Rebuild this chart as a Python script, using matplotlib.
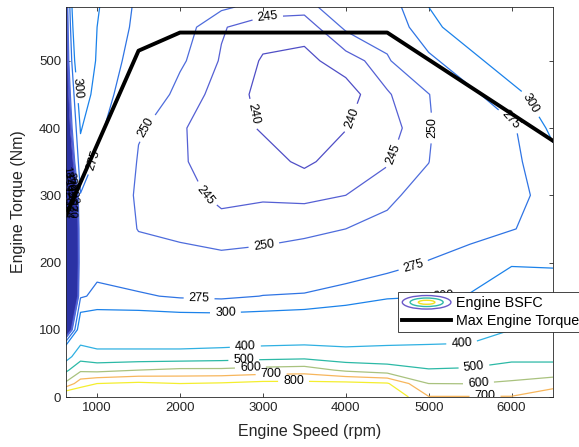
import matplotlib
matplotlib.use('Agg')
import matplotlib.pyplot as plt
import numpy as np
from matplotlib.patches import Ellipse
from matplotlib.legend_handler import HandlerBase

plt.rcParams['font.family'] = ['Liberation Sans', 'DejaVu Sans']

# grid of the map
speed = [625, 800, 1000, 1500, 2000, 2500, 3000, 3500, 4000, 4500, 5000, 5500, 6000, 6500]
torque = [0, 20, 40, 60, 80, 100, 150, 200, 250, 300, 350, 400, 450, 500, 550, 580]

# bsfc (g/kWh) for each speed column, one value per torque row
bsfc_625 = [950, 620, 480, 360, 290, 190, 105, 100, 100, 115, 190, 212, 220, 226, 228, 230]
bsfc_800 = [900, 760, 580, 460, 390, 330, 272, 266, 268, 274, 290, 302, 320, 350, 380, 400]
bsfc_1000 = [950, 800, 570, 440, 370, 330, 280, 268, 262, 264, 271, 280, 288, 295, 300, 302]
bsfc_1500 = [980, 820, 600, 440, 370, 330, 278, 256, 249.5, 248, 249, 251, 256, 262, 268, 270]
bsfc_2000 = [990, 800, 620, 440, 370, 330, 272, 253, 248, 246.5, 245.5, 245.5, 248, 251, 253, 254]
bsfc_2500 = [995, 810, 620, 450, 375, 330, 270, 252, 246.5, 244, 243, 242.5, 243, 244.5, 245.5, 251]
bsfc_3000 = [1000, 830, 640, 460, 385, 330, 275.5, 253, 247, 244.5, 242, 239.5, 238.5, 239.5, 242, 248]
bsfc_3500 = [1000, 830, 650, 470, 390, 335, 277, 255, 248, 244, 239, 236.5, 236, 238.5, 242, 247]
bsfc_4000 = [1000, 830, 580, 440, 385, 340, 285, 258, 250, 245, 242.5, 239.8, 237.5, 242.5, 251, 256]
bsfc_4500 = [900, 810, 540, 450, 390, 345, 296, 265, 252.5, 248, 244.5, 243, 244.5, 248, 258, 262]
bsfc_5000 = [705, 600, 505, 450, 395, 350, 299, 276, 262, 254, 249.8, 248.5, 249.5, 270, 290, 300]
bsfc_5500 = [705, 598, 510, 455, 400, 360, 302, 281, 270, 266, 264, 264, 270, 290, 320, 340]
bsfc_6000 = [705, 615, 545, 470, 430, 400, 330, 296, 274, 270, 269, 271, 290, 320, 350, 370]
bsfc_6500 = [780, 650, 545, 470, 440, 410, 350, 290, 283, 281, 292, 306, 320, 350, 380, 400]

levels = [240, 245, 250, 275, 300, 400, 500, 600, 700, 800]

# max torque curve
max_speed = [625, 1500, 2000, 4500, 6500]
max_torque = [270, 515, 542, 542, 381]

cols = [bsfc_625, bsfc_800, bsfc_1000, bsfc_1500, bsfc_2000, bsfc_2500, bsfc_3000,
        bsfc_3500, bsfc_4000, bsfc_4500, bsfc_5000, bsfc_5500, bsfc_6000, bsfc_6500]
Z = np.array(cols).T

level_colors = ['#4f4ec6', '#5560d4', '#4e6cdc', '#2f74e4', '#1b82ea', '#2fb0e2',
                '#2cb9a6', '#a9c27e', '#f7b65c', '#f4ee2e']


class ContourIcon(HandlerBase):
    def create_artists(self, legend, orig_handle, xdescent, ydescent,
                       width, height, fontsize, trans):
        cx = width / 2 - xdescent
        cy = height / 2 - ydescent
        arts = []
        for w, h, c in [(width, height * 1.35, '#6a58c8'),
                        (width * 0.68, height * 0.85, '#30b8a8'),
                        (width * 0.34, height * 0.4, '#f0e020')]:
            arts.append(Ellipse((cx, cy), w, h, fill=False, edgecolor=c,
                                lw=1.0, transform=trans))
        return arts


fig = plt.figure(figsize=(5.79, 4.47), dpi=100)
ax = fig.add_axes([66 / 579, 1 - 397 / 447, (553 - 66) / 579, (397 - 7) / 447])

# the dense dark band of very low values at idle speed
low = np.arange(102, 236, 2)
cs_low = ax.contour(speed, torque, Z, levels=low, colors='#2b32a4', linewidths=0.8)

cs = ax.contour(speed, torque, Z, levels=levels, colors=level_colors, linewidths=0.9)

label_pos = [(3060, 557), (2850, 420), (3950, 420), (2300, 300), (4600, 360),
             (1600, 400), (5060, 400), (3000, 234), (2230, 144), (4840, 185),
             (970, 352), (6000, 414), (2550, 120), (6150, 430), (765, 460),
             (5185, 150), (2790, 70), (5400, 77), (2770, 54), (5545, 46),
             (2850, 43), (5600, 22), (3100, 32), (5680, 2), (3370, 22)]
ax.clabel(cs, inline=True, fmt='%d', fontsize=9, colors='black', manual=label_pos)

blob_pos = [(640, 300), (660, 310), (680, 290), (700, 320), (650, 330),
            (690, 280), (670, 300), (710, 300), (640, 280), (660, 320)]
ax.clabel(cs_low, inline=False, fmt='%d', fontsize=8, colors='black', manual=blob_pos)

line, = ax.plot(max_speed, max_torque, color='black', lw=2.8)

ax.set_xlim(625, 6500)
ax.set_ylim(0, 580)
ax.set_xticks([1000, 2000, 3000, 4000, 5000, 6000])
ax.set_yticks([0, 100, 200, 300, 400, 500])
ax.tick_params(direction='in', top=True, right=True, labelsize=9.5,
               colors='#262626', length=3, width=0.6)
for s in ax.spines.values():
    s.set_color('#262626')
    s.set_linewidth(0.6)
ax.set_xlabel('Engine Speed (rpm)', fontsize=11.5, color='#262626', labelpad=7)
ax.set_ylabel('Engine Torque (Nm)', fontsize=11.5, color='#262626', labelpad=9)

proxy = Ellipse((0, 0), 1, 1)
leg = fig.legend([proxy, line], ['Engine BSFC', 'Max Engine Torque'],
                 handler_map={proxy: ContourIcon()},
                 loc='upper left', bbox_to_anchor=(398 / 579, 1 - 292 / 447),
                 bbox_transform=fig.transFigure, fontsize=10.3, frameon=True,
                 fancybox=False, framealpha=1, edgecolor='#262626',
                 borderpad=0.3, labelspacing=0.25, handlelength=3.4,
                 handletextpad=0.35, borderaxespad=0)
leg.get_frame().set_linewidth(0.6)

fig.savefig('out.png', dpi=100)
